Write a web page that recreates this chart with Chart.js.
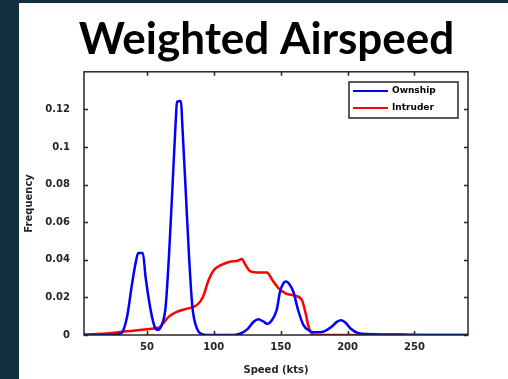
<!DOCTYPE html>
<html>
<head>
<meta charset="utf-8">
<script src="https://cdn.jsdelivr.net/npm/chart.js@4.4.1/dist/chart.umd.min.js"></script>
<style>
    html, body { margin: 0; padding: 0; }
    body { width: 508px; height: 379px; background: #14303f; overflow: hidden; position: relative; }
    .panel { position: absolute; left: 19px; top: 3px; width: 489px; height: 376px; background: #ffffff; }
    canvas { display: block; }
</style>
</head>
<body>
<div class="panel"><canvas id="airspeedChart" width="489" height="376"></canvas></div>
<script>
// Speed values (kts) and frequency for each series
const ownshipSpeed = [3, 25, 31, 35, 39, 41.5, 43.5, 47, 49, 52.8, 55.8, 58.2, 61.5, 64, 66.5, 69, 71.5, 72.5, 75.5, 76.4, 79, 81.5, 84, 87.7, 91, 95,
    115, 120, 125, 130, 133.3, 137, 140, 143, 147, 149.5, 152, 154, 156.5, 159.5, 163, 167, 172, 176, 180, 184, 188, 192, 195.3, 198.5, 202, 208, 215, 240, 260, 290];
const ownshipFreq = [0, 0, 0.001, 0.009, 0.0276, 0.038, 0.0436, 0.0436, 0.031, 0.0133, 0.0044, 0.0027, 0.006, 0.015, 0.042, 0.077, 0.113, 0.124, 0.1245, 0.113, 0.077, 0.042, 0.015, 0.003, 0.0005, 0,
    0, 0.0008, 0.003, 0.0072, 0.0084, 0.0072, 0.0059, 0.0075, 0.0133, 0.023, 0.0275, 0.0284, 0.027, 0.023, 0.0133, 0.0053, 0.002, 0.0014, 0.0015, 0.0025, 0.0044, 0.007, 0.0078, 0.0065, 0.0036, 0.001, 0.0005, 0.0002, 0, 0];

const intruderSpeed = [3, 20, 33, 45, 55, 60, 63, 66.5, 72.7, 80, 87.5, 92, 96, 100, 105, 112, 118, 121, 123.5, 127, 132, 139.6, 144, 148.3, 154, 160, 165.8, 168.5, 171, 174, 178, 290];
const intruderFreq = [0.0003, 0.0008, 0.0018, 0.0027, 0.0035, 0.0044, 0.007, 0.0098, 0.0124, 0.014, 0.016, 0.0204, 0.029, 0.0345, 0.037, 0.039, 0.0395, 0.0404, 0.0375, 0.034, 0.0333, 0.0333, 0.029, 0.0249, 0.022, 0.021, 0.0187, 0.012, 0.004, 0.0003, 0, 0];

const xTicks = [50, 100, 150, 200, 250];
const yTicks = [0, 0.02, 0.04, 0.06, 0.08, 0.1, 0.12];

let airspeedChart = null;

// zip two arrays into {x, y} points
function toPoints(xs, ys) {
    return xs.map((x, i) => ({ x: x, y: ys[i] }));
}

// MATLAB style box with inward tick marks and a boxed legend
const matlabBox = {
    id: 'matlabBox',
    afterLayout(chart) {
        // title sits a bit right of the canvas centre in the original
        if (chart.titleBlock) {
            chart.titleBlock.left += 23;
            chart.titleBlock.right += 23;
        }
    },
    afterDraw(chart) {
        const ctx = chart.ctx;
        const a = chart.chartArea;
        const xs = chart.scales.x;
        const ys = chart.scales.y;
        ctx.save();
        ctx.strokeStyle = '#262626';
        ctx.lineWidth = 1.5;
        ctx.strokeRect(a.left, a.top, a.right - a.left, a.bottom - a.top);
        ctx.beginPath();
        xTicks.forEach(v => {
            const px = Math.round(xs.getPixelForValue(v)) + 0.5;
            ctx.moveTo(px, a.bottom); ctx.lineTo(px, a.bottom - 4);
            ctx.moveTo(px, a.top); ctx.lineTo(px, a.top + 4);
        });
        yTicks.forEach(v => {
            const py = Math.round(ys.getPixelForValue(v)) + 0.5;
            ctx.moveTo(a.left, py); ctx.lineTo(a.left + 4, py);
            ctx.moveTo(a.right, py); ctx.lineTo(a.right - 4, py);
        });
        ctx.stroke();

        // legend box
        const lx = 330, ly = 79, lw = 109, lh = 36;
        ctx.fillStyle = '#ffffff';
        ctx.fillRect(lx, ly, lw, lh);
        ctx.lineWidth = 1.5;
        ctx.strokeStyle = '#262626';
        ctx.strokeRect(lx, ly, lw, lh);
        ctx.font = 'bold 9px "DejaVu Sans"';
        ctx.textBaseline = 'middle';
        chart.data.datasets.forEach((ds, i) => {
            const yy = ly + 9 + i * 17;
            ctx.strokeStyle = ds.borderColor;
            ctx.lineWidth = 2;
            ctx.beginPath();
            ctx.moveTo(lx + 4, yy); ctx.lineTo(lx + 39, yy);
            ctx.stroke();
            ctx.fillStyle = '#000000';
            ctx.fillText(ds.label, lx + 43, yy);
        });
        ctx.restore();
    }
};

function createAirspeedChart() {
    const ctx = document.getElementById('airspeedChart');
    airspeedChart = new Chart(ctx, {
        type: 'line',
        data: {
            datasets: [
                {
                    label: 'Ownship',
                    data: toPoints(ownshipSpeed, ownshipFreq),
                    borderColor: '#0000ff',
                    borderWidth: 2.5,
                    pointRadius: 0,
                    cubicInterpolationMode: 'monotone'
                },
                {
                    label: 'Intruder',
                    data: toPoints(intruderSpeed, intruderFreq),
                    borderColor: '#ff0000',
                    borderWidth: 2.5,
                    pointRadius: 0,
                    cubicInterpolationMode: 'monotone'
                }
            ]
        },
        options: {
            responsive: false,
            animation: false,
            layout: {
                padding: { left: 0, right: 40, top: 0, bottom: 0 }
            },
            plugins: {
                legend: { display: false },
                tooltip: { enabled: false },
                title: {
                    display: true,
                    text: 'Weighted Airspeed',
                    color: '#000000',
                    font: { family: 'Lato', size: 44, weight: 'bold' },
                    padding: { top: 10, bottom: 6 }
                }
            },
            scales: {
                x: {
                    type: 'linear',
                    min: 3,
                    max: 290,
                    afterBuildTicks: scale => {
                        scale.ticks = xTicks.map(v => ({ value: v }));
                    },
                    afterFit: scale => { scale.height = 44; },
                    grid: { display: false, drawTicks: false },
                    border: { display: false },
                    ticks: {
                        color: '#262626',
                        padding: 6,
                        maxRotation: 0,
                        font: { family: 'DejaVu Sans', size: 10, weight: 'bold' }
                    },
                    title: {
                        display: true,
                        text: 'Speed (kts)',
                        color: '#262626',
                        font: { family: 'DejaVu Sans', size: 10, weight: 'bold' },
                        padding: { top: 0, bottom: 3 }
                    }
                },
                y: {
                    min: 0,
                    max: 0.14,
                    afterBuildTicks: scale => {
                        scale.ticks = yTicks.map(v => ({ value: v }));
                    },
                    afterFit: scale => { scale.width = 65; },
                    grid: { display: false, drawTicks: false },
                    border: { display: false },
                    ticks: {
                        color: '#262626',
                        padding: 14,
                        font: { family: 'DejaVu Sans', size: 10, weight: 'bold' },
                        callback: v => String(Math.round(v * 100) / 100)
                    },
                    title: {
                        display: true,
                        text: 'Frequency',
                        color: '#262626',
                        font: { family: 'DejaVu Sans', size: 10, weight: 'bold' },
                        padding: { top: 4, bottom: 0 }
                    }
                }
            }
        },
        plugins: [matlabBox]
    });
}

createAirspeedChart();
</script>
</body>
</html>
